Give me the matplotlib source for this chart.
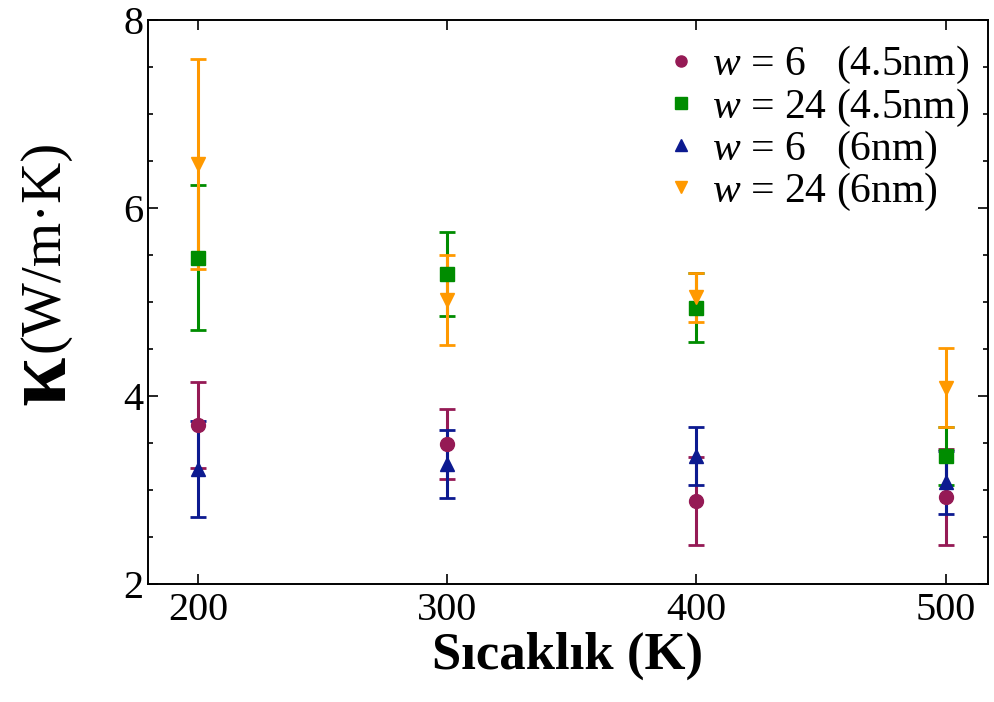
import numpy as np
import matplotlib
matplotlib.use("Agg")
import matplotlib.pyplot as plt
from matplotlib.ticker import MultipleLocator
from matplotlib.lines import Line2D

plt.rcParams['font.family'] = ['Liberation Serif', 'DejaVu Serif']
plt.rcParams['mathtext.fontset'] = 'custom'
plt.rcParams['mathtext.rm'] = 'Liberation Serif'
plt.rcParams['mathtext.it'] = 'Liberation Serif:italic'

# data
T = [200, 300, 400, 500]
k_w6_45 = [3.69, 3.49, 2.88, 2.93]
e_w6_45 = [0.46, 0.37, 0.47, 0.51]
k_w24_45 = [5.47, 5.30, 4.94, 3.36]
e_w24_45 = [0.77, 0.45, 0.37, 0.31]
k_w6_6 = [3.22, 3.28, 3.36, 3.08]
e_w6_6 = [0.51, 0.36, 0.31, 0.33]
k_w24_6 = [6.47, 5.02, 5.05, 4.09]
e_w24_6 = [1.12, 0.48, 0.26, 0.42]

labels = [r"$w$ = 6   (4.5nm)", r"$w$ = 24 (4.5nm)",
          r"$w$ = 6   (6nm)", r"$w$ = 24 (6nm)"]
colors = ['#951a55', '#008c00', '#0c1a90', '#ff9900']
markers = ['o', 's', '^', 'v']

fig = plt.figure(figsize=(9.95, 7.02), dpi=100)
ax = fig.add_axes([148 / 995, 1 - 584 / 702, (988 - 148) / 995, (584 - 20) / 702])

series = [(k_w6_45, e_w6_45), (k_w24_45, e_w24_45),
          (k_w6_6, e_w6_6), (k_w24_6, e_w24_6)]
for (k, e), c, m in zip(series, colors, markers):
    ax.errorbar(T, k, yerr=e, fmt=m, color=c, ms=10, elinewidth=2.2,
                capsize=6, capthick=2)

ax.set_xlim(180, 517)
ax.set_ylim(2, 8)
ax.set_xticks(T)
ax.yaxis.set_major_locator(MultipleLocator(2))
ax.yaxis.set_minor_locator(MultipleLocator(0.5))
ax.tick_params(which='both', direction='in', top=True, right=True, labelsize=29)
ax.tick_params(which='major', length=7, width=1.2)
ax.tick_params(which='minor', length=3.5, width=1.2)
ax.tick_params(axis='x', pad=6)
ax.tick_params(axis='y', pad=3)
for s in ax.spines.values():
    s.set_linewidth(1.4)

ax.set_xlabel("Sıcaklık (K)", fontsize=38, fontweight='bold', labelpad=2)

# y label: big bold kappa + units
fig.text(64 / 995, 1 - 405 / 702, "κ", fontsize=64, fontweight='bold',
         rotation=90, rotation_mode='anchor', ha='left', va='baseline')
fig.text(58 / 995, 1 - 352 / 702, "(W/m·K)", fontsize=41,
         rotation=90, rotation_mode='anchor', ha='left', va='baseline')

# legend shows markers only
handles = [Line2D([], [], ls='none', marker=m, color=c, ms=8)
           for m, c in zip(markers, colors)]
ax.legend(handles, labels, loc='upper right', bbox_to_anchor=(1.0, 0.99),
          frameon=False, fontsize=30, handletextpad=0.25, labelspacing=0.0,
          borderaxespad=0.05, handlelength=1.0)

fig.savefig("out.png", dpi=100)
